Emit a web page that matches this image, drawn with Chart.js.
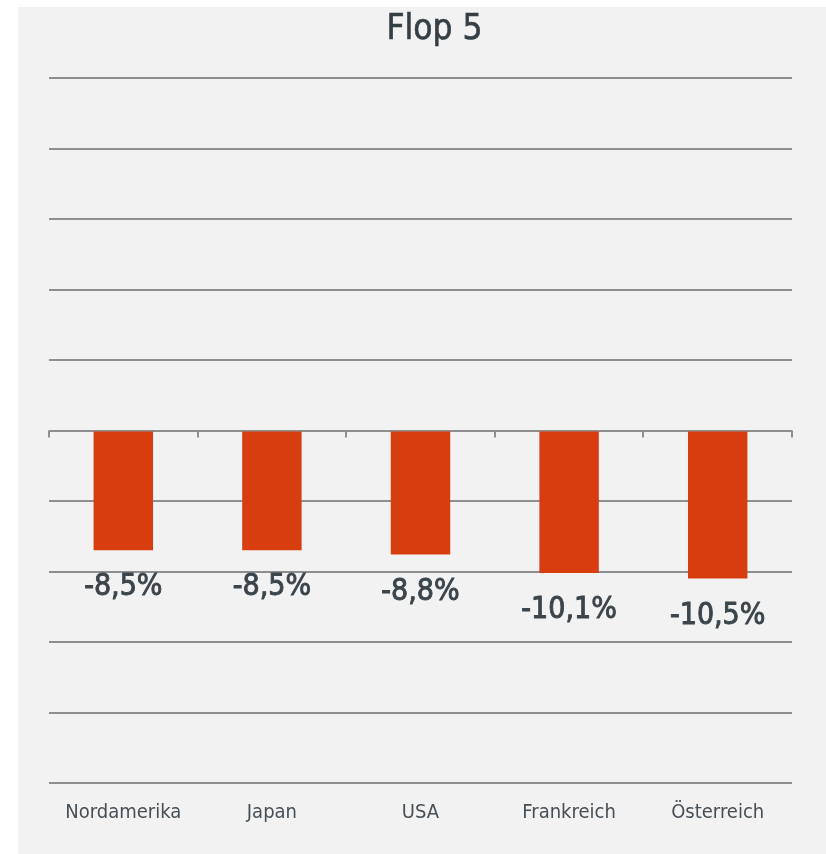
<!DOCTYPE html>
<html>
<head>
<meta charset="utf-8">
<script src="https://cdn.jsdelivr.net/npm/chart.js@4/dist/chart.umd.min.js"></script>
<style>
  html, body { margin: 0; padding: 0; background: #ffffff; }
  #wrap { width: 826px; height: 854px; position: relative; }
</style>
</head>
<body>
<div id="wrap"><canvas id="c" width="826" height="854"></canvas></div>
<script>
const titleText = 'Flop 5';
const categories = ['Nordamerika', 'Japan', 'USA', 'Frankreich', 'Österreich'];
const values = [-8.5, -8.5, -8.8, -10.1, -10.5];
const yMin = -25, yMax = 25, yStep = 5;

const FONT = '"DejaVu Sans Condensed", "DejaVu Sans", sans-serif';

const panelPlugin = {
  id: 'panel',
  beforeDraw(chart) {
    const ctx = chart.ctx;
    ctx.save();
    ctx.fillStyle = '#f2f2f2';
    ctx.fillRect(18, 7, chart.width - 18, chart.height - 7);
    ctx.fillStyle = '#353f45';
    ctx.strokeStyle = '#353f45';
    ctx.lineWidth = 0.6;
    ctx.font = '35px ' + FONT;
    ctx.textAlign = 'center';
    ctx.textBaseline = 'alphabetic';
    const tx = (chart.chartArea.left + chart.chartArea.right) / 2 + 14;
    ctx.fillText(titleText, tx, 39);
    ctx.strokeText(titleText, tx, 39);
    ctx.restore();
  }
};

const extrasPlugin = {
  id: 'extras',
  afterDatasetsDraw(chart) {
    const ctx = chart.ctx;
    const xs = chart.scales.x, ys = chart.scales.y;
    const y0 = ys.getPixelForValue(0);
    ctx.save();
    // axis tick marks at zero line
    ctx.strokeStyle = '#8e8e8e';
    ctx.lineWidth = 2;
    for (let i = 0; i <= categories.length; i++) {
      const x = Math.round(xs.getPixelForValue(i - 0.5));
      ctx.beginPath();
      ctx.moveTo(x, y0);
      ctx.lineTo(x, y0 + 7);
      ctx.stroke();
    }
    // data labels
    const meta = chart.getDatasetMeta(0);
    ctx.fillStyle = '#3b454b';
    ctx.strokeStyle = '#3b454b';
    ctx.lineWidth = 0.9;
    ctx.font = '30px ' + FONT;
    ctx.textAlign = 'center';
    ctx.textBaseline = 'alphabetic';
    meta.data.forEach((bar, i) => {
      const txt = values[i].toFixed(1).replace('.', ',') + '%';
      ctx.fillText(txt, bar.x, bar.y + 45);
      ctx.strokeText(txt, bar.x, bar.y + 45);
    });
    ctx.restore();
  }
};

new Chart(document.getElementById('c'), {
  type: 'bar',
  data: {
    labels: categories,
    datasets: [{
      data: values,
      backgroundColor: '#d83d0f',
      borderWidth: 0,
      categoryPercentage: 1.0,
      barPercentage: 0.4
    }]
  },
  options: {
    responsive: false,
    animation: false,
    layout: { padding: { left: 49, right: 34, top: 78, bottom: 11 } },
    plugins: { legend: { display: false }, tooltip: { enabled: false }, title: { display: false } },
    scales: {
      x: {
        grid: { display: false, drawTicks: false },
        border: { display: false },
        ticks: { color: '#454f55', font: { family: FONT, size: 20 }, padding: 18, maxRotation: 0 }
      },
      y: {
        min: yMin, max: yMax,
        ticks: { display: false, stepSize: yStep },
        grid: { color: '#8e8e8e', lineWidth: 2, drawTicks: false },
        border: { display: false }
      }
    }
  },
  plugins: [panelPlugin, extrasPlugin]
});
</script>
</body>
</html>
